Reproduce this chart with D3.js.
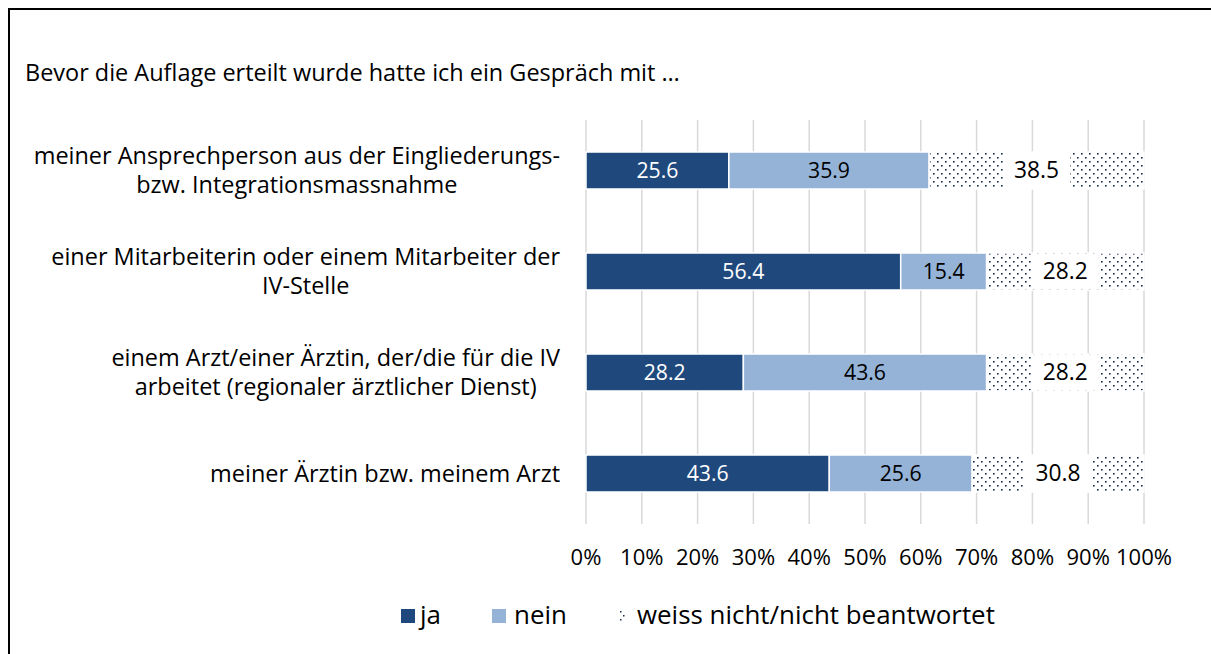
<!DOCTYPE html>
<html>
<head>
<meta charset="utf-8">
<script src="https://cdn.jsdelivr.net/npm/d3@7"></script>
<style>
  body { margin: 0; background: #fff; }
  svg { display: block; font-family: "Open Sans", "Liberation Sans", sans-serif; }
</style>
</head>
<body>
<svg id="chart" width="1211" height="654"></svg>
<script>
const title = 'Bevor die Auflage erteilt wurde hatte ich ein Gespräch mit …'
const categories = [
  ['meiner Ansprechperson aus der Eingliederungs-', 'bzw. Integrationsmassnahme'],
  ['einer Mitarbeiterin oder einem Mitarbeiter der', 'IV-Stelle'],
  ['einem Arzt/einer Ärztin, der/die für die IV', 'arbeitet (regionaler ärztlicher Dienst)'],
  ['meiner Ärztin bzw. meinem Arzt'],
]
const seriesNames = ['ja', 'nein', 'weiss nicht/nicht beantwortet']
const ja = [25.6, 56.4, 28.2, 43.6]
const nein = [35.9, 15.4, 43.6, 25.6]
const weissNicht = [38.5, 28.2, 28.2, 30.8]
const tickValues = [0, 10, 20, 30, 40, 50, 60, 70, 80, 90, 100]

const colors = ['#1f497d', '#95b3d7', 'url(#dots)']
const dark = '#172b4d'

const svg = d3.select('#chart')

// pick a font size so a sample string gets the width seen in the picture
function fit(sample, width) {
  const t = svg.append('text').style('font-size', '100px').text(sample)
  const w = t.node().getComputedTextLength()
  t.remove()
  return (100 * width / w).toFixed(2) + 'px'
}
const titleSize = fit(title, 655)
const catSize = fit(categories[3][0], 350)
const tickSize = fit('100%', 56)
const valSize = fit('25.6', 42)
const weissSize = fit('38.5', 45)
const legendSize = fit(seriesNames[2], 358)

// dotted pattern like excel's 10% fill
const pat = svg.append('defs').append('pattern')
  .attr('id', 'dots')
  .attr('patternUnits', 'userSpaceOnUse')
  .attr('width', 8).attr('height', 8)
pat.append('rect').attr('width', 8).attr('height', 8).attr('fill', '#fff')
pat.append('rect').attr('x', 1).attr('y', 1).attr('width', 1.6).attr('height', 1.6).attr('fill', dark)
pat.append('rect').attr('x', 5).attr('y', 5).attr('width', 1.6).attr('height', 1.6).attr('fill', dark)

// outer frame
svg.append('rect')
  .attr('x', 9).attr('y', 9).attr('width', 1300).attr('height', 800)
  .attr('fill', 'none').attr('stroke', '#000').attr('stroke-width', 2)

svg.append('text')
  .attr('x', 25).attr('y', 73).attr('dy', '0.35em')
  .style('font-size', titleSize)
  .text(title)

const x = d3.scaleLinear().domain([0, 100]).range([586, 1144])
const y = d3.scaleBand()
  .domain(d3.range(categories.length))
  .range([120, 524])
  .paddingInner(0.634)
  .paddingOuter(0.317)

// gridlines
svg.append('g')
  .selectAll('line')
  .data(tickValues)
  .join('line')
  .attr('x1', d => x(d)).attr('x2', d => x(d))
  .attr('y1', 120).attr('y2', 524)
  .attr('stroke', '#d9d9d9').attr('stroke-width', 1.5)

// tick labels
svg.append('g')
  .selectAll('text')
  .data(tickValues)
  .join('text')
  .attr('x', d => x(d)).attr('y', 557).attr('dy', '0.35em')
  .attr('text-anchor', 'middle')
  .style('font-size', tickSize)
  .text(d => d + '%')

// stacked bars
const rows = categories.map((c, i) => ({ ja: ja[i], nein: nein[i], weiss: weissNicht[i] }))
const stack = d3.stack().keys(['ja', 'nein', 'weiss'])
const layers = stack(rows)

const g = svg.append('g')
  .selectAll('g')
  .data(layers)
  .join('g')
  .attr('fill', (d, i) => colors[i])

g.selectAll('rect')
  .data(d => d)
  .join('rect')
  .attr('x', d => x(d[0]))
  .attr('width', d => x(d[1]) - x(d[0]))
  .attr('y', (d, i) => y(i))
  .attr('height', y.bandwidth())
  .attr('stroke', '#fff')
  .attr('stroke-width', 1.5)

// value labels
layers.forEach((layer, k) => {
  layer.forEach((d, i) => {
    const cx = (x(d[0]) + x(d[1])) / 2
    const cy = y(i) + y.bandwidth() / 2
    const val = d[1] - d[0]
    if (k === 2) {
      svg.append('rect')
        .attr('x', cx - 33.5).attr('y', y(i) + 1)
        .attr('width', 67).attr('height', y.bandwidth() - 2)
        .attr('fill', '#fff')
    }
    svg.append('text')
      .attr('x', cx).attr('y', cy)
      .attr('dy', '0.35em')
      .attr('text-anchor', 'middle')
      .attr('fill', k === 0 ? '#fff' : '#000')
      .style('font-size', k === 2 ? weissSize : valSize)
      .text(d3.format('.1f')(val))
  })
})

// category labels, wrapped lines centred within a right-aligned block
categories.forEach((lines, i) => {
  const t = svg.append('text').style('font-size', catSize)
  const spans = lines.map(l => t.append('tspan').text(l))
  const widths = spans.map(s => s.node().getComputedTextLength())
  const maxW = d3.max(widths)
  const cx = 560 - maxW / 2
  const cy = y(i) + y.bandwidth() / 2
  const lh = 29
  const top = cy - (lines.length - 1) * lh / 2
  spans.forEach((s, j) => {
    s.attr('x', cx).attr('y', top + j * lh).attr('dy', '0.35em').attr('text-anchor', 'middle')
  })
})

// legend
const legendItems = [
  { x: 401, tx: 420, fill: colors[0] },
  { x: 492, tx: 514, fill: colors[1] },
]
legendItems.forEach((d, i) => {
  svg.append('rect').attr('x', d.x).attr('y', 609).attr('width', 14).attr('height', 14).attr('fill', d.fill)
  svg.append('text').attr('x', d.tx).attr('y', 615).attr('dy', '0.35em')
    .style('font-size', legendSize).text(seriesNames[i])
})
svg.append('rect').attr('x', 620).attr('y', 611).attr('width', 1.5).attr('height', 1.5).attr('fill', dark)
svg.append('rect').attr('x', 623).attr('y', 615).attr('width', 1.5).attr('height', 1.5).attr('fill', dark)
svg.append('rect').attr('x', 620).attr('y', 619).attr('width', 1.5).attr('height', 1.5).attr('fill', dark)
svg.append('text').attr('x', 637).attr('y', 615).attr('dy', '0.35em')
  .style('font-size', legendSize).text(seriesNames[2])
</script>
</body>
</html>
